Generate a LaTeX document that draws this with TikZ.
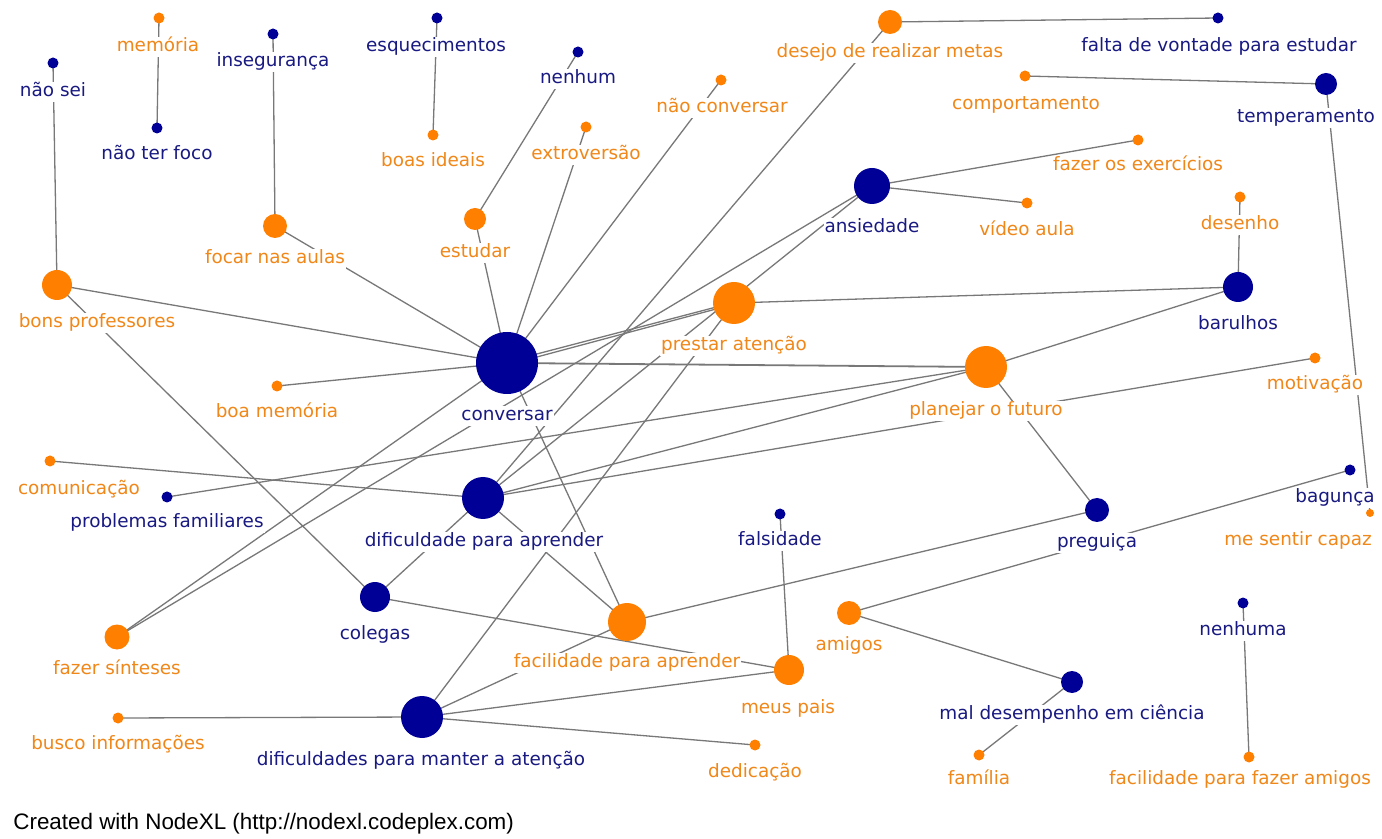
\documentclass[tikz,border=0pt]{standalone}
\usepackage{fontspec}
\setmainfont{DejaVu Sans}
\newfontfamily\footfont{Liberation Sans}
\definecolor{nblue}{RGB}{0,0,150}
\definecolor{norange}{RGB}{255,128,0}
\definecolor{tblue}{RGB}{25,25,130}
\definecolor{torange}{RGB}{240,135,25}
\definecolor{edgegray}{RGB}{120,120,120}
\pgfdeclarelayer{back}
\pgfdeclarelayer{bg}
\pgfsetlayers{back,bg,main}
\begin{document}
\begin{tikzpicture}[x=0.5pt,y=-0.5pt,
  bn/.style={circle,fill=nblue,draw=none,inner sep=0pt,minimum size=#1},
  bn/.default=5.5,
  on/.style={circle,fill=norange,draw=none,inner sep=0pt,minimum size=#1},
  on/.default=5.5,
  lab/.style={fill=white,inner sep=0.5pt,text height=6.8pt,text depth=1.9pt,font=\fontsize{9.2}{10}\selectfont,yshift=-1.5pt},
  bl/.style={lab,text=tblue},
  ol/.style={lab,text=torange},
  lnk/.style={draw=edgegray,line width=0.65pt}]
\useasboundingbox (0,0) rectangle (1382,839);
\begin{pgfonlayer}{back}
\fill[white] (0,0) rectangle (1382,839);
\end{pgfonlayer}

% labels
\node[bl] (naosei-l) at (53,89) {não sei};
\node[ol] (memoria-l) at (158,44) {memória};
\node[bl] (naoterfoco-l) at (157,152) {não ter foco};
\node[bl] (inseg-l) at (273,59) {insegurança};
\node[bl] (esquec-l) at (436,44) {esquecimentos};
\node[ol] (boasideais-l) at (433,159) {boas ideais};
\node[bl] (nenhum-l) at (578,76) {nenhum};
\node[ol] (extrov-l) at (586,152) {extroversão};
\node[ol] (naoconv-l) at (722,105) {não conversar};
\node[ol] (desejo-l) at (890,50) {desejo de realizar metas};
\node[bl] (falta-l) at (1219,44) {falta de vontade para estudar};
\node[ol] (comport-l) at (1026,102) {comportamento};
\node[bl] (temper-l) at (1306,115) {temperamento};
\node[ol] (exerc-l) at (1138,163) {fazer os exercícios};
\node[bl] (ansied-l) at (872,225) {ansiedade};
\node[ol] (video-l) at (1027,228) {vídeo aula};
\node[ol] (desenho-l) at (1240,222) {desenho};
\node[bl] (barulhos-l) at (1238,322) {barulhos};
\node[ol] (focar-l) at (275,256) {focar nas aulas};
\node[ol] (estudar-l) at (475,250) {estudar};
\node[ol] (bonsprof-l) at (97,320) {bons professores};
\node[ol] (prestar-l) at (734,343) {prestar atenção};
\node[bl] (conv-l) at (507,413) {conversar};
\node[ol] (planejar-l) at (986,408) {planejar o futuro};
\node[ol] (boamem-l) at (277,410) {boa memória};
\node[ol] (motiv-l) at (1315,382) {motivação};
\node[ol] (comunic-l) at (79,487) {comunicação};
\node[bl] (problemas-l) at (167,520) {problemas familiares};
\node[bl] (dificap-l) at (484,539) {dificuldade para aprender};
\node[bl] (falsid-l) at (780,538) {falsidade};
\node[bl] (preguica-l) at (1097,540) {preguiça};
\node[bl] (bagunca-l) at (1335,495) {bagunça};
\node[ol] (mesentir-l) at (1298,538) {me sentir capaz};
\node[bl] (colegas-l) at (375,632) {colegas};
\node[ol] (sinteses-l) at (117,667) {fazer sínteses};
\node[ol] (facilap-l) at (627,660) {facilidade para aprender};
\node[ol] (amigos-l) at (849,643) {amigos};
\node[ol] (meuspais-l) at (788,706) {meus pais};
\node[bl] (nenhuma-l) at (1243,628) {nenhuma};
\node[bl] (maldes-l) at (1072,712) {mal desempenho em ciência};
\node[ol] (busco-l) at (118,742) {busco informações};
\node[bl] (manter-l) at (421,758) {dificuldades para manter a atenção};
\node[ol] (dedic-l) at (755,770) {dedicação};
\node[ol] (familia-l) at (979,777) {família};
\node[ol] (facamigos-l) at (1240,777) {facilidade para fazer amigos};

% vertices
\node[bn] (naosei) at (53,63) {};
\node[on] (memoria) at (159,18) {};
\node[bn] (naoterfoco) at (157,128) {};
\node[bn] (inseg) at (273,34) {};
\node[bn] (esquec) at (437,18) {};
\node[on] (boasideais) at (433,135) {};
\node[bn] (nenhum) at (578,52) {};
\node[on] (extrov) at (586,127) {};
\node[on] (naoconv) at (721,80) {};
\node[on=12] (desejo) at (890,22) {};
\node[bn] (falta) at (1218,18) {};
\node[on] (comport) at (1025,76) {};
\node[bn=11] (temper) at (1326,84) {};
\node[on] (exerc) at (1138,140) {};
\node[bn=18] (ansied) at (872,186) {};
\node[on] (video) at (1027,203) {};
\node[on] (desenho) at (1240,197) {};
\node[bn=15] (barulhos) at (1238,287) {};
\node[on=12] (focar) at (275,226) {};
\node[on=11] (estudar) at (475,219) {};
\node[on=15] (bonsprof) at (57,285) {};
\node[on=21] (prestar) at (734,303) {};
\node[bn=31] (conv) at (507,363) {};
\node[on=21] (planejar) at (986,367) {};
\node[on] (boamem) at (277,386) {};
\node[on] (motiv) at (1315,358) {};
\node[on] (comunic) at (50,461) {};
\node[bn] (problemas) at (167,497) {};
\node[bn=21] (dificap) at (483,498) {};
\node[bn] (falsid) at (780,514) {};
\node[bn=12] (preguica) at (1097,510) {};
\node[bn] (bagunca) at (1350,470) {};
\node[on=4] (mesentir) at (1370,513) {};
\node[bn=15] (colegas) at (375,597) {};
\node[on=12.5] (sinteses) at (117,637) {};
\node[on=19] (facilap) at (627,622) {};
\node[on=12] (amigos) at (849,613) {};
\node[on=15] (meuspais) at (789,670) {};
\node[bn] (nenhuma) at (1243,603) {};
\node[bn=11] (maldes) at (1072,682) {};
\node[on] (busco) at (118,718) {};
\node[bn=21] (manter) at (422,717) {};
\node[on] (dedic) at (755,745) {};
\node[on] (familia) at (979,755) {};
\node[on] (facamigos) at (1249,757) {};

\node[anchor=west,inner sep=0pt,font=\footfont\fontsize{11.2}{13}\selectfont] (foot) at (13,824) {Created with NodeXL (http://nodexl.codeplex.com)};

% edges
\begin{pgfonlayer}{bg}
\draw[lnk] (naosei.center) -- (bonsprof.center);
\draw[lnk] (memoria.center) -- (naoterfoco.center);
\draw[lnk] (inseg.center) -- (focar.center);
\draw[lnk] (esquec.center) -- (boasideais.center);
\draw[lnk] (nenhum.center) -- (estudar.center);
\draw[lnk] (desejo.center) -- (falta.center);
\draw[lnk] (comport.center) -- (temper.center);
\draw[lnk] (temper.center) -- (mesentir.center);
\draw[lnk] (ansied.center) -- (exerc.center);
\draw[lnk] (ansied.center) -- (video.center);
\draw[lnk] (desenho.center) -- (barulhos.center);
\draw[lnk] (focar.center) -- (conv.center);
\draw[lnk] (estudar.center) -- (conv.center);
\draw[lnk] (extrov.center) -- (conv.center);
\draw[lnk] (naoconv.center) -- (conv.center);
\draw[lnk] (desejo.center) -- (dificap.center);
\draw[lnk] (ansied.center) -- (sinteses.center);
\draw[lnk] (ansied.center) -- (dificap.center);
\draw[lnk] (bonsprof.center) -- (conv.center);
\draw[lnk] (bonsprof.center) -- (colegas.center);
\draw[lnk] (boamem.center) -- (conv.center);
\draw[lnk] ([yshift=-1pt]conv.center) -- ([yshift=-0.6pt]prestar.center);
\draw[lnk] ([yshift=0.6pt]conv.center) -- ([yshift=0.3pt]prestar.center);
\draw[lnk,line width=0.9pt] (conv.center) -- (planejar.center);
\draw[lnk] (conv.center) -- (sinteses.center);
\draw[lnk] (conv.center) -- (facilap.center);
\draw[lnk] (prestar.center) -- (barulhos.center);
\draw[lnk] (prestar.center) -- (manter.center);
\draw[lnk] (planejar.center) -- (barulhos.center);
\draw[lnk] (planejar.center) -- (preguica.center);
\draw[lnk] (problemas.center) -- (planejar.center);
\draw[lnk] (dificap.center) -- (planejar.center);
\draw[lnk] (dificap.center) -- (motiv.center);
\draw[lnk] (comunic.center) -- (dificap.center);
\draw[lnk] (dificap.center) -- (colegas.center);
\draw[lnk] (dificap.center) -- (facilap.center);
\draw[lnk] (colegas.center) -- (meuspais.center);
\draw[lnk] (preguica.center) -- (facilap.center);
\draw[lnk] (bagunca.center) -- (amigos.center);
\draw[lnk] (amigos.center) -- (maldes.center);
\draw[lnk] (maldes.center) -- (familia.center);
\draw[lnk] (falsid.center) -- (meuspais.center);
\draw[lnk] (nenhuma.center) -- (facamigos.center);
\draw[lnk] (manter.center) -- (busco.center);
\draw[lnk] (manter.center) -- (dedic.center);
\draw[lnk] (manter.center) -- (meuspais.center);
\draw[lnk] (manter.center) -- (facilap.center);
\end{pgfonlayer}
\end{tikzpicture}
\end{document}
